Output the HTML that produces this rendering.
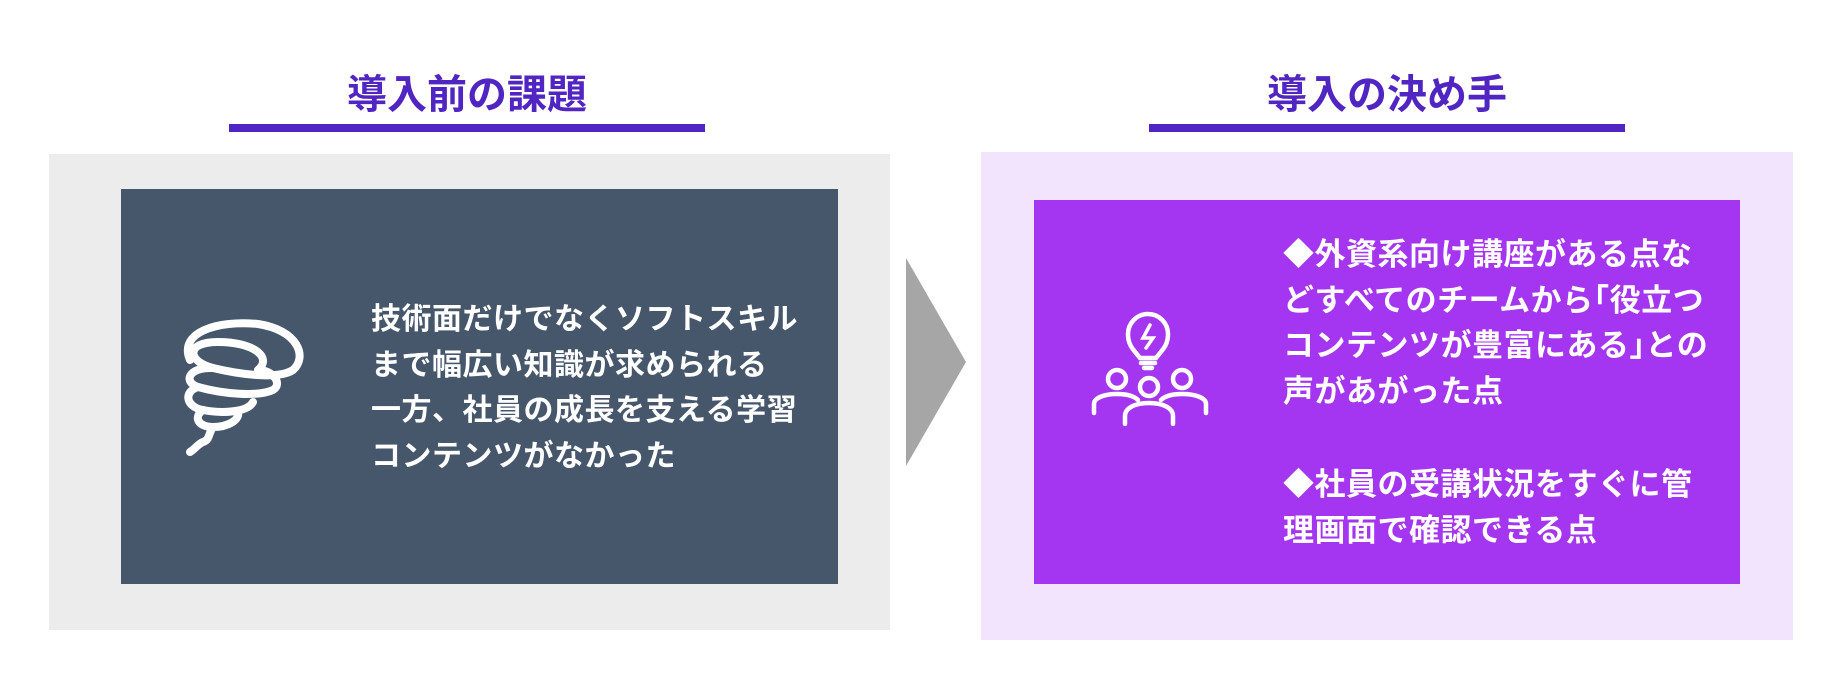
<!DOCTYPE html>
<html><head><meta charset="utf-8"><style>
body{margin:0;width:1843px;height:699px;background:#fff;position:relative;overflow:hidden;font-family:"Liberation Sans","Noto Sans CJK JP",sans-serif}
div{position:absolute}
.t{font-size:40px;font-weight:bold;color:#5125c1;text-align:center;line-height:44px}
.u{height:8px;background:#5125c1}
.txt{color:#fff;font-size:30px;font-weight:bold;line-height:45.5px;white-space:nowrap;letter-spacing:0.5px}
</style></head><body>
<div class="t" style="left:229px;width:476px;top:73px">導入前の課題</div>
<div class="u" style="left:229px;width:476px;top:124px"></div>
<div class="t" style="left:1149px;width:476px;top:73px">導入の決め手</div>
<div class="u" style="left:1149px;width:476px;top:124px"></div>

<div style="left:49px;top:154px;width:841px;height:476px;background:#ececec"></div>
<div style="left:121px;top:189px;width:717px;height:395px;background:#46566b"></div>
<svg style="position:absolute;left:178px;top:312px" width="135" height="145" viewBox="0 0 135 145">
<g fill="none" stroke="#fff" stroke-width="8" stroke-linecap="round" stroke-linejoin="round">
<path d="M12 48 C0 20 40 8 80 12 C120 18 130 45 115 58 C100 68 60 62 35 56 C10 50 6 30 40 30 C75 30 95 45 80 58"/>
<path d="M35 56 C10 55 5 70 20 75 C45 82 80 85 95 78 C105 72 95 58 80 58"/>
<path d="M20 75 C5 80 8 95 25 98 C45 102 70 100 75 90"/>
<path d="M25 98 C15 105 20 115 35 115 C50 115 62 108 60 100"/>
<path d="M35 115 C30 122 32 128 25 130 C20 132 18 136 12 140"/>
</g></svg>
<div class="txt" style="left:371px;top:297px">技術面だけでなくソフトスキル<br>まで幅広い知識が求められる<br>一方、社員の成長を支える学習<br>コンテンツがなかった</div>

<svg style="position:absolute;left:906px;top:258px" width="62" height="210"><polygon points="0,0 60,104 0,208" fill="#a6a6a6"/></svg>

<div style="left:981px;top:152px;width:812px;height:488px;background:#f2e4fc"></div>
<div style="left:1034px;top:200px;width:706px;height:384px;background:#a435f0"></div>
<svg style="position:absolute;left:1090px;top:310px" width="120" height="116" viewBox="0 0 120 116">
<g fill="none" stroke="#fff" stroke-width="4.5" stroke-linecap="round">
<path d="M50 48 C44 40 38 36 38 24 A20 20 0 1 1 78 24 C78 36 72 40 66 48 Z"/>
<path d="M51 53 H65 M54 58 H62"/>
<path d="M60 15 L53 28 H63 L56 38" stroke-width="3.5"/>
<circle cx="27" cy="69" r="9"/><circle cx="59" cy="77" r="9"/><circle cx="92" cy="69" r="9"/>
<path d="M4 103 V94 C4 88 14 84 27 84 C38 84 44 86 48 90"/>
<path d="M116 103 V94 C116 88 106 84 92 84 C81 84 75 86 71 90"/>
<path d="M35 114 V106 C35 98 45 93 59 93 C73 93 83 98 83 106 V114"/>
</g></svg>
<div class="txt" style="left:1283px;top:232px;font-size:31px">◆外資系向け講座がある点な<br>どすべてのチームから｢役立つ<br>コンテンツが豊富にある｣との<br>声があがった点</div>
<div class="txt" style="left:1283px;top:462px;font-size:31px">◆社員の受講状況をすぐに管<br>理画面で確認できる点</div>
</body></html>
